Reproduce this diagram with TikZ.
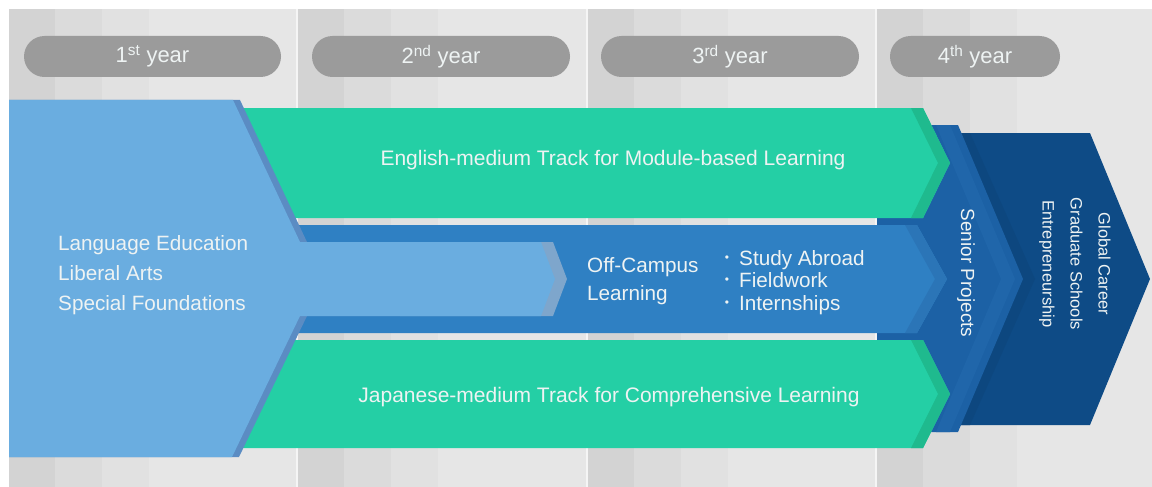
\documentclass[tikz,border=0pt]{standalone}
\usepackage{fontspec}
\setmainfont{Liberation Sans}
\definecolor{bg}{HTML}{E6E6E6}
\definecolor{st1}{HTML}{D3D3D3}
\definecolor{st2}{HTML}{DBDBDB}
\definecolor{st3}{HTML}{E1E1E1}
\definecolor{pillc}{HTML}{9B9B9B}
\definecolor{lblue}{HTML}{6AADE0}
\definecolor{slate}{HTML}{5B8CC3}
\definecolor{bandtip}{HTML}{7EA6CC}
\definecolor{greenc}{HTML}{24CFA5}
\definecolor{greendk}{HTML}{1FBA8E}
\definecolor{midblue}{HTML}{2F80C3}
\definecolor{midtip}{HTML}{2B75B7}
\definecolor{senior}{HTML}{1C61A5}
\definecolor{seniorlt}{HTML}{2066AA}
\definecolor{navy}{HTML}{0E4B86}
\definecolor{navydk}{HTML}{0D477F}
\definecolor{textc}{HTML}{EEF3F3}
\begin{document}
\begin{tikzpicture}[x=1pt,y=-1pt,
  pill/.style={fill=pillc, rounded corners=20.5pt, minimum width=#1, minimum height=41pt, inner sep=0pt,
    text=textc, font=\fontsize{22}{24}\selectfont},
  maintxt/.style={text=textc, inner sep=0pt, font=\fontsize{20.7}{24}\selectfont},
  tracktxt/.style={text=textc, inner sep=0pt, font=\fontsize{21}{24}\selectfont},
  bul/.style={text=textc, inner sep=0pt, font=\fontsize{12}{12}\selectfont}]
\useasboundingbox (0,0) rectangle (1152,487);
% background
\fill[white] (0,0) rectangle (1152,487);
\fill[bg] (9,9) rectangle (1152,487);
\foreach \c in {9,298,588,877}{
  \fill[st1] (\c,9) rectangle ({\c+46},487);
  \fill[st2] ({\c+46},9) rectangle ({\c+93},487);
  \fill[st3] ({\c+93},9) rectangle ({\c+140},487);
}
\foreach \c in {296,586,875}{
  \fill[white!60!bg] (\c,9) rectangle ({\c+2},487);
}
% year pills
\node[pill=257pt] (y1) at (152.5,56.5) {1\textsuperscript{st} year};
\node[pill=258pt] (y2) at (441,56.5) {2\textsuperscript{nd} year};
\node[pill=258pt] (y3) at (730,56.5) {3\textsuperscript{rd} year};
\node[pill=170pt] (y4) at (975,56.5) {4\textsuperscript{th} year};
% navy outcome arrow
\fill[navy] (877,133) -- (1090,133) -- (1150,279) -- (1090,425) -- (877,425) -- cycle;
\fill[navydk] (958,133) -- (970,133) -- (1035,279) -- (970,425) -- (958,425) -- (1023,279) -- cycle;
% senior projects arrow
\fill[senior] (877,125) -- (958,125) -- (1023,279) -- (958,432) -- (877,432) -- cycle;
\fill[seniorlt] (936,125) -- (950,125) -- (1015,279) -- (950,432) -- (936,432) -- (1001,279) -- cycle;
% middle off-campus band
\fill[midblue] (260,225) -- (917,225) -- (947,279) -- (917,333) -- (260,333) -- cycle;
\fill[midtip] (905,225) -- (917,225) -- (947,279) -- (917,333) -- (905,333) -- (935,279) -- cycle;
% green tracks
\fill[greenc] (200,108) -- (923,108) -- (950,163) -- (923,218) -- (200,218) -- cycle;
\fill[greendk] (911,108) -- (923,108) -- (950,163) -- (923,218) -- (911,218) -- (938,163) -- cycle;
\fill[greenc] (200,340) -- (923,340) -- (950,394) -- (923,448) -- (200,448) -- cycle;
\fill[greendk] (911,340) -- (923,340) -- (950,394) -- (923,448) -- (911,448) -- (938,394) -- cycle;
% light blue foundation shape
\fill[slate] (9,100) -- (240,100) -- (307,242) -- (400,242) -- (400,316) -- (307,316) -- (239,457) -- (9,457) -- cycle;
\fill[bandtip] (400,242) -- (553,242) -- (567,279) -- (553,316) -- (400,316) -- cycle;
\fill[lblue] (9,100) -- (233,100) -- (300,242) -- (541,242) -- (555,279) -- (541,316) -- (300,316) -- (232,457) -- (9,457) -- cycle;
% texts
\node[maintxt, anchor=base west] (l1) at (58,250) {Language Education};
\node[maintxt, anchor=base west] (l2) at (58,280) {Liberal Arts};
\node[maintxt, anchor=base west] (l3) at (58,310) {Special Foundations};
\node[tracktxt] (eng) at (613,160) {English-medium Track for Module-based Learning};
\node[tracktxt] (jap) at (609,397) {Japanese-medium Track for Comprehensive Learning};
\node[maintxt, anchor=base west] (oc1) at (587,272) {Off-Campus};
\node[maintxt, anchor=base west] (oc2) at (587,300) {Learning};
\node[bul] (b1) at (727,258.5) {•};
\node[bul] (b2) at (727,281) {•};
\node[bul] (b3) at (727,303.5) {•};
\node[maintxt, anchor=base west] (s1) at (739,265) {Study Abroad};
\node[maintxt, anchor=base west] (s2) at (739,287.5) {Fieldwork};
\node[maintxt, anchor=base west] (s3) at (739,310) {Internships};
\node[text=textc, inner sep=0pt, rotate=-90, font=\fontsize{19}{22}\selectfont] (sp) at (966,273) {Senior Projects};
\node[text=textc, inner sep=0pt, rotate=-90, align=center, font=\fontsize{16.5}{28}\selectfont] (gc) at (1075,264) {Global Career\\Graduate Schools\\Entrepreneurship};
\end{tikzpicture}
\end{document}
